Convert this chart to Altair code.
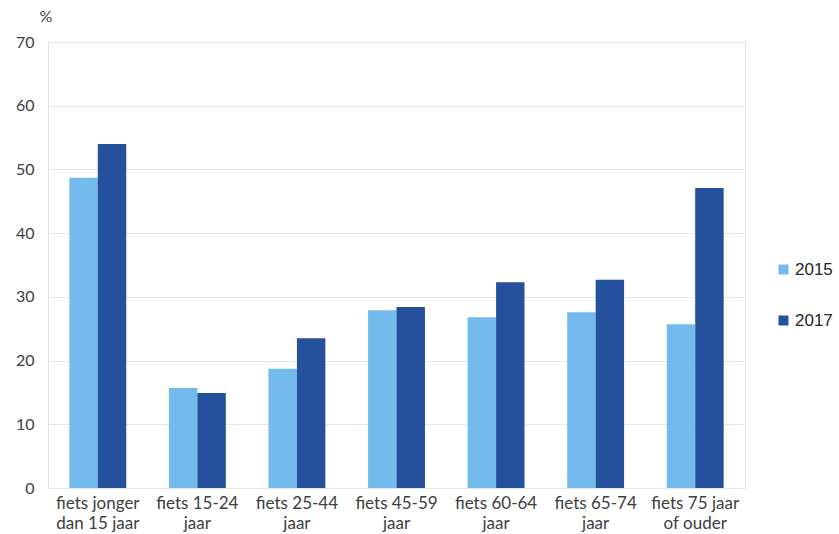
import altair as alt
import pandas as pd

categories = [
    "fiets jonger|dan 15 jaar",
    "fiets 15-24|jaar",
    "fiets 25-44|jaar",
    "fiets 45-59|jaar",
    "fiets 60-64|jaar",
    "fiets 65-74|jaar",
    "fiets 75 jaar|of ouder",
]
years = ["2015", "2017"]
values_2015 = [48.7, 15.7, 18.7, 27.9, 26.8, 27.6, 25.7]
values_2017 = [54.0, 14.9, 23.5, 28.4, 32.3, 32.7, 47.1]

rows = []
for c, a, b in zip(categories, values_2015, values_2017):
    rows.append({"cat": c, "year": "2015", "value": a})
    rows.append({"cat": c, "year": "2017", "value": b})
df = pd.DataFrame(rows)

colors = ["#72BBEC", "#24509C"]

chart = alt.Chart(df).mark_bar().encode(
    x=alt.X("cat:N", sort=categories,
            scale=alt.Scale(paddingInner=0, paddingOuter=0),
            axis=alt.Axis(title=None, labelAngle=0, labelExpr="split(datum.label, '|')",
                          labelFont="Lato", labelFontSize=17, labelColor="#404040",
                          labelPadding=7, ticks=False, domain=False, labelLineHeight=20,
                          labelBaseline="top")),
    xOffset=alt.XOffset("year:N", scale=alt.Scale(paddingOuter=0.75, paddingInner=0)),
    y=alt.Y("value:Q", scale=alt.Scale(domain=[0, 70], nice=False),
            axis=alt.Axis(values=[0, 10, 20, 30, 40, 50, 60, 70], title="%",
                          titleAngle=0, titleAlign="left", titleX=-9, titleY=-18,
                          titleFont="Lato", titleFontSize=16, titleFontWeight="normal",
                          titleColor="#404040",
                          labelFont="Lato", labelFontSize=16, labelColor="#404040",
                          labelPadding=14, ticks=False, domain=False,
                          gridColor="#e6e6e6")),
    color=alt.Color("year:N", scale=alt.Scale(domain=years, range=colors),
                    legend=alt.Legend(title=None, orient="none", legendX=727, legendY=219,
                                      symbolType="square", symbolSize=100,
                                      symbolStrokeWidth=0,
                                      labelFont="Liberation Sans", labelFontSize=17,
                                      labelColor="#262626", rowPadding=33,
                                      labelOffset=3)),
).properties(
    width=697, height=446,
    padding={"left": 48, "top": 42, "right": 94, "bottom": 46},
    autosize=alt.AutoSizeParams(type="none"),
).configure_view(stroke="#e3e3e3")

chart.save("out.html", embed_options={"renderer": "svg", "actions": False})
